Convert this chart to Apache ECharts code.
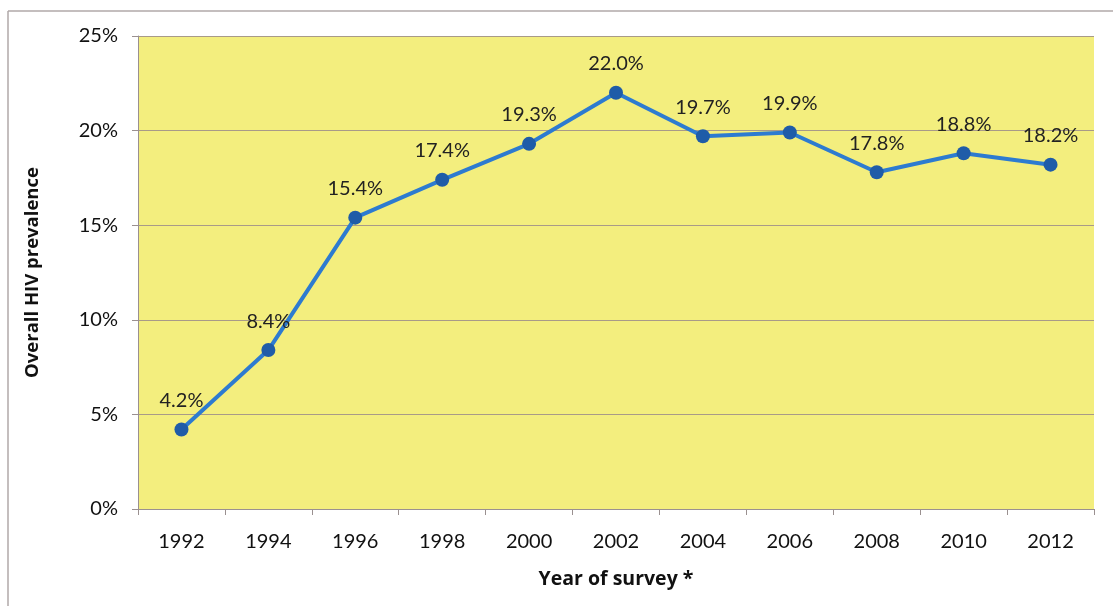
<!DOCTYPE html>
<html><head><meta charset="utf-8">
<script src="https://cdn.jsdelivr.net/npm/echarts@6/dist/echarts.min.js"></script>
<style>html,body{margin:0;padding:0;background:#fff}#c{width:1113px;height:606px}</style>
</head><body><div id="c"></div>
<script>
const years = ['1992','1994','1996','1998','2000','2002','2004','2006','2008','2010','2012'];
const prevalence = [4.2, 8.4, 15.4, 17.4, 19.3, 22.0, 19.7, 19.9, 17.8, 18.8, 18.2];
const yTicks = [0, 5, 10, 15, 20, 25];

const chart = echarts.init(document.getElementById('c'));
const font = 'Lato, "Open Sans", sans-serif';
const boldFont = '"Open Sans", Lato, sans-serif';
chart.setOption({
  animation: false,
  graphic: [
    {type:'line', shape:{x1:8,y1:11,x2:1113,y2:11}, style:{stroke:'#b0a8a8', lineWidth:1.5}},
    {type:'line', shape:{x1:8,y1:11,x2:8,y2:606}, style:{stroke:'#b0a8a8', lineWidth:1.5}}
  ],
  grid: {left:138, right:19, top:36, bottom:97, show:true, backgroundColor:'#F3EE7E', borderWidth:0},
  xAxis: {
    type:'category', data: years, boundaryGap:true,
    name:'Year of survey *', nameLocation:'middle', nameGap:60,
    nameTextStyle:{fontFamily:boldFont, fontWeight:'bold', fontSize:19.5, color:'#111'},
    axisLine:{lineStyle:{color:'#9a9090', width:1}},
    axisTick:{show:true, length:6, lineStyle:{color:'#9a9090'}},
    axisLabel:{fontFamily:font, fontSize:20, color:'#111', margin:23}
  },
  yAxis: {
    type:'value', min:0, max:25, interval:5,
    name:'Overall HIV prevalence', nameLocation:'middle', nameGap:96,
    nameTextStyle:{fontFamily:boldFont, fontWeight:'bold', fontSize:18.5, color:'#111'},
    axisLine:{show:true, lineStyle:{color:'#9a9090', width:1}},
    axisTick:{show:true, length:6, lineStyle:{color:'#9a9090'}},
    axisLabel:{fontFamily:font, fontSize:20, color:'#111', margin:20,
      formatter: v => yTicks.includes(v) ? v + '%' : ''},
    splitLine:{show:true, lineStyle:{color:'#a89a88', width:1}}
  },
  series: [{
    type:'line', data: prevalence,
    symbol:'circle', symbolSize:14,
    lineStyle:{color:'#2D7BD0', width:4},
    itemStyle:{color:'#1F5CA8'},
    label:{show:true, position:'top', distance:12, fontFamily:font, fontSize:20, color:'#222',
      formatter: p => p.value.toFixed(1) + '%'}
  }]
});
</script></body></html>
